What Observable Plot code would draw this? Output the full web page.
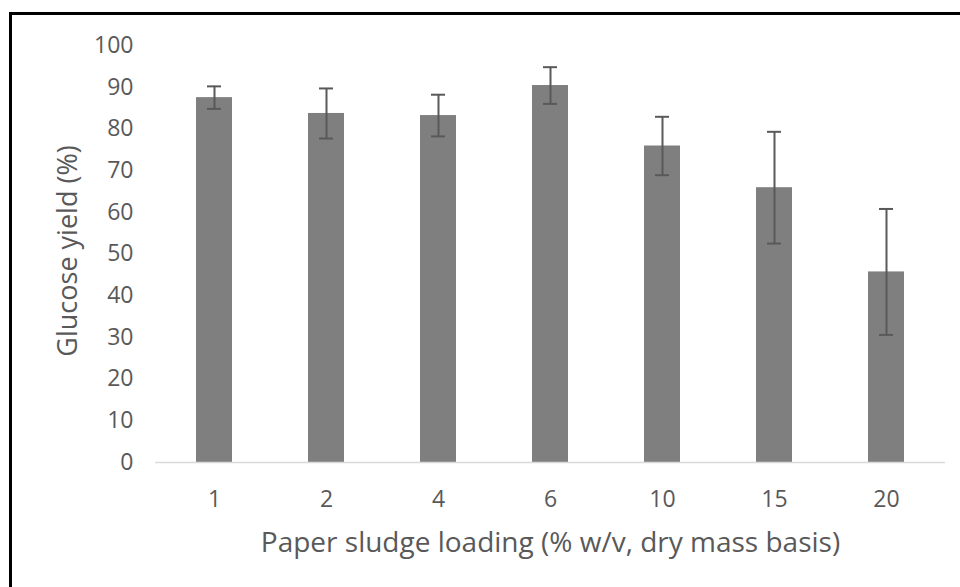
<!DOCTYPE html>
<html>
<head>
<meta charset="utf-8">
<script src="https://cdn.jsdelivr.net/npm/d3@7"></script>
<script src="https://cdn.jsdelivr.net/npm/@observablehq/plot@0.6"></script>
<style>
  html, body { margin: 0; padding: 0; background: #fff; overflow: hidden; }
  #wrap { position: relative; width: 960px; height: 587px; overflow: hidden; }
  #frame { position: absolute; left: 9px; top: 12px; width: 1000px; height: 700px;
           border-left: 3px solid #000; border-top: 3px solid #000; pointer-events: none; }
  #chart { position: absolute; left: 0; top: 0; }
</style>
</head>
<body>
<div id="wrap">
  <div id="chart"></div>
  <div id="frame"></div>
</div>
<script>
const categories = ["1", "2", "4", "6", "10", "15", "20"];
const yieldValues = [87.5, 83.7, 83.2, 90.4, 75.9, 65.9, 45.7];
const errorValues = [2.7, 6.0, 5.0, 4.4, 7.0, 13.4, 15.1];
const yTicks = [0, 10, 20, 30, 40, 50, 60, 70, 80, 90, 100];
const xTitle = "Paper sludge loading (% w/v, dry mass basis)";
const yTitle = "Glucose yield (%)";

const data = categories.map((c, i) => ({
  cat: c,
  value: yieldValues[i],
  lo: yieldValues[i] - errorValues[i],
  hi: yieldValues[i] + errorValues[i]
}));

const textColor = "#595959";

const chart = Plot.plot({
  width: 960,
  height: 587,
  marginLeft: 155,
  marginRight: 15,
  marginTop: 45,
  marginBottom: 125,
  style: { fontFamily: "'Open Sans', sans-serif", fontSize: "23px", color: textColor, background: "transparent" },
  x: { domain: categories, paddingInner: 0.68, paddingOuter: 0.34 },
  y: { domain: [0, 100] },
  marks: [
    Plot.barY(data, { x: "cat", y: "value", fill: "#7f7f7f" }),
    Plot.ruleY([0], { stroke: "#d9d9d9", strokeWidth: 1.5 }),
    Plot.ruleX(data, { x: "cat", y1: "lo", y2: "hi", stroke: "#595959", strokeWidth: 2 }),
    Plot.tickY(data, { x: "cat", y: "lo", stroke: "#595959", strokeWidth: 2, insetLeft: 11, insetRight: 11 }),
    Plot.tickY(data, { x: "cat", y: "hi", stroke: "#595959", strokeWidth: 2, insetLeft: 11, insetRight: 11 }),
    Plot.axisY({ ticks: yTicks, tickSize: 0, tickPadding: 22, label: null, fontSize: 23 }),
    Plot.axisX({ tickSize: 0, tickPadding: 28, label: null, fontSize: 23 }),
    Plot.text([xTitle], { text: d => d, frameAnchor: "bottom", lineAnchor: "middle", dy: 81, fontSize: 28, fill: textColor }),
    Plot.text([yTitle], { text: d => d, frameAnchor: "left", textAnchor: "middle", rotate: -90, dx: -87, dy: -3, fontSize: 27, fill: textColor })
  ]
});
document.getElementById("chart").appendChild(chart);
</script>
</body>
</html>
